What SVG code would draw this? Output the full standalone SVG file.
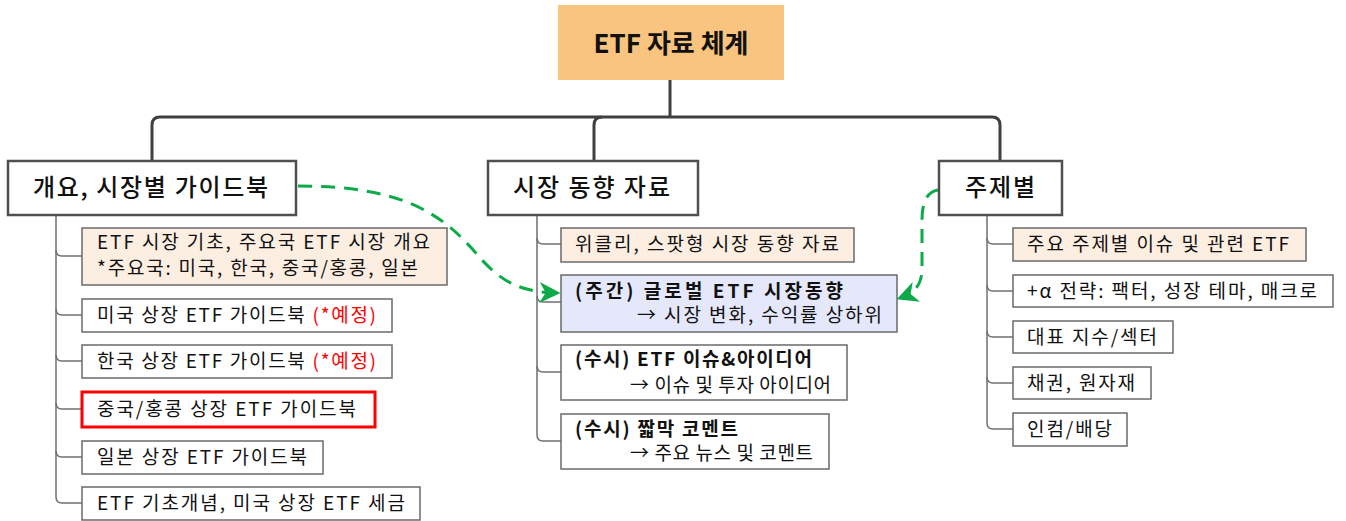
<svg xmlns="http://www.w3.org/2000/svg" width="1346" height="521" viewBox="0 0 1346 521">
<defs>
<style>
text{font-family:"Noto Sans CJK KR","Liberation Sans",sans-serif;fill:#111;}
.top{font-size:26px;font-weight:bold;}
.l1{font-size:24px;font-weight:500;}
.c{font-size:19px;}
.b{font-weight:bold;}
.red{fill:#FF0000;}
.l1box{fill:#fff;stroke:#505050;stroke-width:2.5;}
.box{fill:#fff;stroke:#6a6a6a;stroke-width:1.5;}
.peach{fill:#FDEEE2;}
.blue{fill:#E5E8FB;}
.redbox{fill:#fff;stroke:#FF0000;stroke-width:3;}
.main{fill:none;stroke:#404040;stroke-width:3;}
.sub{fill:none;stroke:#707070;stroke-width:1.5;}
.green{fill:none;stroke:#0DAA4A;stroke-width:3;stroke-dasharray:14 9;}
</style>
<marker id="ah" viewBox="0 0 12 12" refX="10" refY="6" markerWidth="7" markerHeight="7" orient="auto" markerUnits="strokeWidth">
<path d="M0,0 L12,6 L0,12 L3.5,6 Z" fill="#0DAA4A"/>
</marker>
</defs>

<g id="connectors">
<path class="main" d="M670,80 L670,117"/>
<path class="main" d="M152,161 L152,125 Q152,117 160,117 L992,117 Q1000,117 1000,125 L1000,161"/>
<path class="main" d="M594,161 L594,125 Q594,117 602,117"/>
<path class="sub" d="M56,215 L56,497 Q56,503 62,503 L82,503"/>
<path class="sub" d="M56,250 Q56,256 62,256 L82,256"/>
<path class="sub" d="M56,309 Q56,315 62,315 L82,315"/>
<path class="sub" d="M56,355 Q56,361 62,361 L82,361"/>
<path class="sub" d="M56,403 Q56,409 62,409 L82,409"/>
<path class="sub" d="M56,451 Q56,457 62,457 L82,457"/>
<path class="sub" d="M537,215 L537,435 Q537,441 543,441 L561,441"/>
<path class="sub" d="M537,238 Q537,244 543,244 L561,244"/>
<path class="sub" d="M537,296 Q537,302 543,302 L561,302"/>
<path class="sub" d="M537,366 Q537,372 543,372 L561,372"/>
<path class="sub" d="M987,216 L987,423 Q987,429 993,429 L1013,429"/>
<path class="sub" d="M987,238 Q987,244 993,244 L1013,244"/>
<path class="sub" d="M987,285 Q987,291 993,291 L1013,291"/>
<path class="sub" d="M987,331 Q987,337 993,337 L1013,337"/>
<path class="sub" d="M987,377 Q987,383 993,383 L1013,383"/>
<path class="green" marker-end="url(#ah)" d="M298,186 C400,186 440,212 475,252 C500,282 520,292 557,293"/>
<path class="green" marker-end="url(#ah)" d="M938,190 C926,192 922,204 922,220 L922,268 C922,284 916,292 900,298"/>
</g>

<g id="root">
<rect x="558" y="5" width="226" height="75" fill="#F8C47F"/>
<text class="top" x="671" y="53" text-anchor="middle">ETF 자료 체계</text>
</g>

<g id="n-overview">
<rect class="l1box" x="8" y="161" width="288" height="54"/>
<text class="l1" x="33" y="196" textLength="235" lengthAdjust="spacing">개요, 시장별 가이드북</text>
</g>
<g id="n-market">
<rect class="l1box" x="488" y="161" width="210" height="54"/>
<text class="l1" x="513" y="196" textLength="157" lengthAdjust="spacing">시장 동향 자료</text>
</g>
<g id="n-theme">
<rect class="l1box" x="939" y="161" width="123" height="54"/>
<text class="l1" x="965" y="196" textLength="70" lengthAdjust="spacing">주제별</text>
</g>

<g id="c1">
<rect class="box peach" x="82" y="228" width="365" height="57"/>
<text class="c" x="97" y="249" textLength="333" lengthAdjust="spacing">ETF 시장 기초, 주요국 ETF 시장 개요</text>
<text class="c" x="97" y="275" textLength="321" lengthAdjust="spacing">*주요국: 미국, 한국, 중국/홍콩, 일본</text>
</g>
<g id="c2">
<rect class="box" x="82" y="299" width="310" height="33"/>
<text class="c" x="97" y="322" textLength="279" lengthAdjust="spacing">미국 상장 ETF 가이드북 <tspan class="red">(*예정)</tspan></text>
</g>
<g id="c3">
<rect class="box" x="82" y="345" width="310" height="33"/>
<text class="c" x="97" y="368" textLength="279" lengthAdjust="spacing">한국 상장 ETF 가이드북 <tspan class="red">(*예정)</tspan></text>
</g>
<g id="c4">
<rect class="redbox" x="82" y="392" width="293" height="35"/>
<text class="c" x="97" y="416" textLength="259" lengthAdjust="spacing">중국/홍콩 상장 ETF 가이드북</text>
</g>
<g id="c5">
<rect class="box" x="82" y="441" width="241" height="33"/>
<text class="c" x="97" y="464" textLength="210" lengthAdjust="spacing">일본 상장 ETF 가이드북</text>
</g>
<g id="c6">
<rect class="box" x="82" y="487" width="338" height="33"/>
<text class="c" x="97" y="510" textLength="308" lengthAdjust="spacing">ETF 기초개념, 미국 상장 ETF 세금</text>
</g>

<g id="m1">
<rect class="box peach" x="561" y="228" width="293" height="34"/>
<text class="c" x="575" y="251" textLength="264" lengthAdjust="spacing">위클리, 스팟형 시장 동향 자료</text>
</g>
<g id="m2">
<rect class="box blue" x="561" y="275" width="336" height="57"/>
<text class="c b" x="575" y="298" textLength="268" lengthAdjust="spacing">(주간) 글로벌 ETF 시장동향</text>
<text class="c" x="637" y="322" textLength="245" lengthAdjust="spacing">→ 시장 변화, 수익률 상하위</text>
</g>
<g id="m3">
<rect class="box" x="561" y="345" width="286" height="55"/>
<text class="c b" x="575" y="366" textLength="237" lengthAdjust="spacing">(수시) ETF 이슈&amp;아이디어</text>
<text class="c" x="630" y="392" textLength="201" lengthAdjust="spacing">→ 이슈 및 투자 아이디어</text>
</g>
<g id="m4">
<rect class="box" x="561" y="414" width="268" height="55"/>
<text class="c b" x="575" y="436" textLength="163" lengthAdjust="spacing">(수시) 짧막 코멘트</text>
<text class="c" x="630" y="460" textLength="183" lengthAdjust="spacing">→ 주요 뉴스 및 코멘트</text>
</g>

<g id="t1">
<rect class="box peach" x="1013" y="228" width="293" height="33"/>
<text class="c" x="1027" y="251" textLength="262" lengthAdjust="spacing">주요 주제별 이슈 및 관련 ETF</text>
</g>
<g id="t2">
<rect class="box" x="1013" y="275" width="320" height="32"/>
<text class="c" x="1027" y="298" textLength="290" lengthAdjust="spacing">+α 전략: 팩터, 성장 테마, 매크로</text>
</g>
<g id="t3">
<rect class="box" x="1013" y="321" width="160" height="32"/>
<text class="c" x="1027" y="344" textLength="130" lengthAdjust="spacing">대표 지수/섹터</text>
</g>
<g id="t4">
<rect class="box" x="1013" y="367" width="138" height="32"/>
<text class="c" x="1027" y="390" textLength="108" lengthAdjust="spacing">채권, 원자재</text>
</g>
<g id="t5">
<rect class="box" x="1013" y="413" width="114" height="33"/>
<text class="c" x="1027" y="436" textLength="85" lengthAdjust="spacing">인컴/배당</text>
</g>
</svg>
